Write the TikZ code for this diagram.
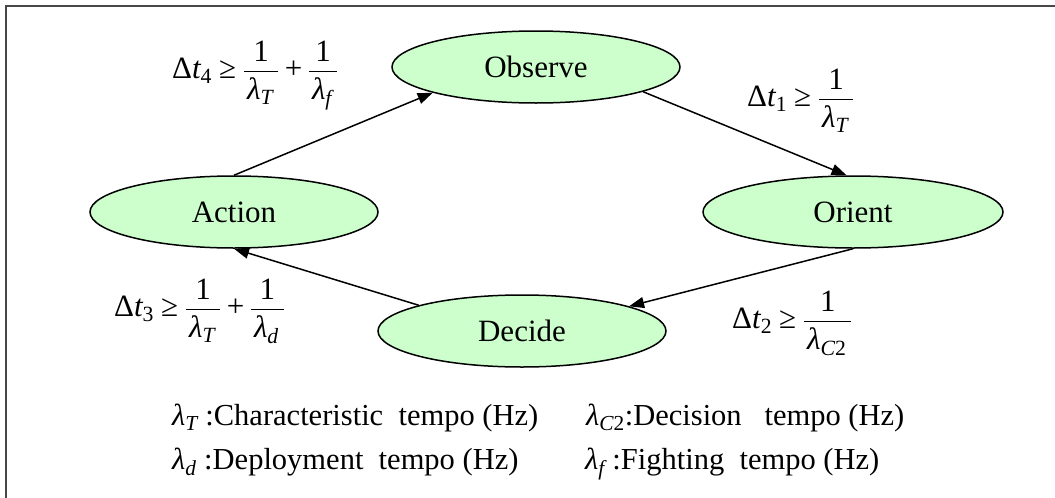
\documentclass[tikz,border=0pt]{standalone}
\usepackage{amsmath}
\usepackage{fontspec}
\setmainfont{Liberation Serif}
\usetikzlibrary{shapes.geometric,arrows.meta}
\definecolor{nodegreen}{HTML}{CCFFCC}
\definecolor{framegray}{HTML}{484848}
\newcommand\tu[1]{\text{\upshape #1}}
\newcommand\ti[1]{\text{\itshape #1}}
\newcommand\lam{\ti{λ}}
\newcommand\onefrac[1]{\dfrac{\tu{1}\rule[-3pt]{0pt}{3pt}}{\rule{0pt}{24pt}\kern3pt #1\kern5pt}}
\begin{document}
\begin{tikzpicture}[x=1pt,y=-1pt,
  state/.style={ellipse, draw=black, line width=1.5pt, fill=nodegreen, minimum height=72pt, inner sep=0pt, font=\fontsize{31}{37}\selectfont},
  flow/.style={draw=black, line width=1.5pt, -{Triangle[length=15pt,width=11pt]}},
  eq/.style={inner sep=0pt, anchor=base west, font=\fontsize{31}{37}\selectfont},
  legend/.style={inner sep=0pt, anchor=base west, font=\fontsize{30.5}{36}\selectfont}]
\useasboundingbox (0,0) rectangle (1055,498);
\draw[line width=2pt, draw=framegray] (6,6) rectangle (1080,520);
\node[state, minimum width=288pt] (observe) at (536,67) {Observe};
\node[state, minimum width=288pt] (action) at (234,212) {Action};
\node[state, minimum width=300pt] (orient) at (853,212) {Orient};
\node[state, minimum width=288pt] (decide) at (522,331) {Decide};
\draw[flow] (action.north) -- (observe.194);
\draw[flow] (observe.-13.5) -- (orient.100);
\draw[flow] (orient.south) -- (decide.13);
\draw[flow] (decide.166) -- (action.south);
\node[eq] (dt4) at (172,78) {$\tu{Δ}\ti{t}_{\tu{4}}\mathrel{\tu{≥}}\onefrac{\lam_{\ti{T}}}\mathbin{\tu{+}}\onefrac{\lam_{\ti{f}}}$};
\node[eq] (dt1) at (747,106) {$\tu{Δ}\ti{t}_{\tu{1}}\mathrel{\tu{≥}}\onefrac{\lam_{\ti{T}}}$};
\node[eq] (dt2) at (732,328) {$\tu{Δ}\ti{t}_{\tu{2}}\mathrel{\tu{≥}}\onefrac{\lam_{\ti{C}\tu{2}}}$};
\node[eq] (dt3) at (114,316) {$\tu{Δ}\ti{t}_{\tu{3}}\mathrel{\tu{≥}}\onefrac{\lam_{\ti{T}}}\mathbin{\tu{+}}\onefrac{\lam_{\ti{d}}}$};
\node[legend] (lT) at (172,425) {$\lam_{\ti{T}}$ :Characteristic\ \ tempo (Hz)};
\node[legend] (lC) at (586,425) {$\lam_{\ti{C}\tu{2}}$:Decision\ \ \ tempo (Hz)};
\node[legend] (ld) at (172,469) {$\lam_{\ti{d}}$ :Deployment\ \ tempo (Hz)};
\node[legend] (lf) at (585,469) {$\lam_{\ti{f}}$ :Fighting\ \ tempo (Hz)};
\end{tikzpicture}
\end{document}
